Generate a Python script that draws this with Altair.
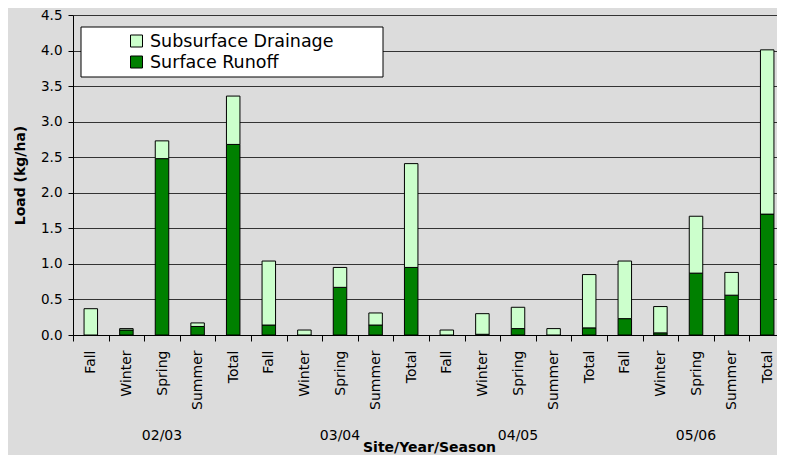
import altair as alt
import pandas as pd

# ---------------- data ----------------
years = ["02/03", "03/04", "04/05", "05/06"]
seasons = ["Fall", "Winter", "Spring", "Summer", "Total"]
series_names = ["Subsurface Drainage", "Surface Runoff"]
series_colors = ["#ccffcc", "#008000"]

surface_runoff = [0.00, 0.07, 2.48, 0.12, 2.68,
                  0.14, 0.00, 0.67, 0.14, 0.95,
                  0.00, 0.01, 0.09, 0.00, 0.10,
                  0.23, 0.03, 0.87, 0.56, 1.70]
subsurface_drainage = [0.37, 0.02, 0.25, 0.05, 0.68,
                       0.90, 0.07, 0.28, 0.17, 1.46,
                       0.07, 0.29, 0.30, 0.09, 0.75,
                       0.81, 0.37, 0.80, 0.32, 2.31]
y_ticks = [0.0, 0.5, 1.0, 1.5, 2.0, 2.5, 3.0, 3.5, 4.0, 4.5]

keys = [f"{y} {s}" for y in years for s in seasons]

rows = []
for i, k in enumerate(keys):
    rows.append({"key": k, "series": "Surface Runoff", "value": surface_runoff[i], "ord": 0})
    rows.append({"key": k, "series": "Subsurface Drainage", "value": subsurface_drainage[i], "ord": 1})
df = pd.DataFrame(rows)

year_df = pd.DataFrame({"year": years, "key": [f"{y} Spring" for y in years]})

FONT = "DejaVu Sans"
color_scale = alt.Scale(domain=series_names, range=series_colors)
x_scale = alt.Scale(paddingInner=0, paddingOuter=0, range=[0, 712])

x_enc = alt.X(
    "key:O", sort=keys, scale=x_scale,
    axis=alt.Axis(
        title="Site/Year/Season", titleFont=FONT, titleFontSize=14, titleFontWeight="bold",
        titleColor="black", titleX=356, titleY=116, titleAlign="center",
        titleBaseline="alphabetic",
        labelExpr="split(datum.label, ' ')[1]", labelAngle=270, labelAlign="right",
        labelBaseline="middle", labelFont=FONT, labelFontSize=14, labelColor="black",
        labelPadding=9, tickSize=6, tickColor="black", domainColor="black",
        tickBand="extent", grid=False, labelOverlap=False,
    ),
)

bars = alt.Chart(df).mark_bar(width=13.5, stroke="black", strokeWidth=1).encode(
    x=x_enc,
    y=alt.Y(
        "value:Q", stack="zero",
        scale=alt.Scale(domain=[0, 4.5], nice=False),
        axis=alt.Axis(
            title="Load (kg/ha)", titleFont=FONT, titleFontSize=14, titleFontWeight="bold",
            titleColor="black", titleX=-53, titleY=160, titleAngle=270, titleAlign="center",
            titleBaseline="middle",
            values=y_ticks, format=".1f", labelFont=FONT, labelFontSize=13.5,
            labelColor="black", labelPadding=6, tickSize=5, tickColor="black",
            domainColor="black", gridColor="#333333", gridWidth=1,
        ),
    ),
    color=alt.Color("series:N", scale=color_scale, legend=None),
    order=alt.Order("ord:Q", sort="ascending"),
)

year_labels = alt.Chart(year_df).mark_text(
    font=FONT, fontSize=14, color="black", baseline="middle", align="center"
).encode(
    x=alt.X("key:O", sort=keys, scale=x_scale),
    y=alt.value(421),
    text="year:N",
)

box_df = pd.DataFrame({"box": [1]})
legend_box = alt.Chart(box_df).mark_rect(fill="white", stroke="black", strokeWidth=1).encode(
    x=alt.value(8), x2=alt.value(310), y=alt.value(12), y2=alt.value(62)
)

legend_layers = []
for i, name in enumerate(series_names):
    ldf = pd.DataFrame({"series": [name]})
    ypos = 26 + 21 * i
    sq = alt.Chart(ldf).mark_square(size=144, stroke="black", strokeWidth=1, opacity=1).encode(
        x=alt.value(63.5), y=alt.value(ypos),
        color=alt.Color("series:N", scale=color_scale, legend=None),
    )
    tx = alt.Chart(ldf).mark_text(
        font=FONT, fontSize=17.5, color="black", align="left", baseline="middle"
    ).encode(x=alt.value(77), y=alt.value(ypos + 1), text="series:N")
    legend_layers += [sq, tx]

chart = alt.layer(bars, year_labels, legend_box, *legend_layers).properties(
    width=704, height=320,
    autosize=alt.AutoSizeParams(type="none"),
    padding={"left": 65, "top": 7, "right": 0, "bottom": 120},
    background="#dcdcdc",
).configure_view(fill="white", stroke="transparent").configure(font=FONT)

chart.save("out.html", embed_options={"renderer": "svg", "actions": False})
